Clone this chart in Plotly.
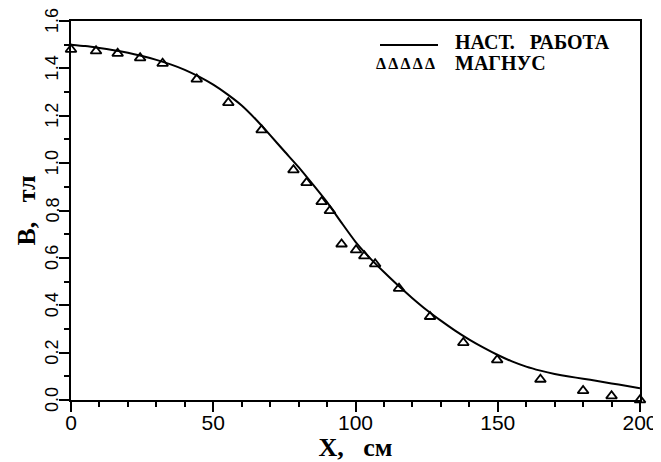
import plotly.graph_objects as go

# Curve "НАСТ. РАБОТА"
curve_x = [0, 5, 10, 15, 20, 25, 30, 35, 40, 45, 50, 55, 60, 65, 70, 75, 80, 85, 90, 95, 100,
           105, 110, 115, 120, 125, 130, 135, 140, 145, 150, 155, 160, 165, 170, 175, 180, 185, 190, 195, 200]
curve_y = [1.500, 1.494, 1.486, 1.477, 1.466, 1.452, 1.436, 1.417, 1.394, 1.365, 1.331, 1.290, 1.243,
           1.184, 1.118, 1.050, 0.983, 0.910, 0.835, 0.750, 0.668, 0.600, 0.540, 0.483, 0.430, 0.380,
           0.335, 0.293, 0.255, 0.221, 0.190, 0.163, 0.141, 0.124, 0.110, 0.099, 0.090, 0.080, 0.070,
           0.060, 0.050]

# Points "МАГНУС"
pts_x = [0, 8.8, 16.4, 24.3, 32.2, 44.2, 55.3, 67.0, 78.2, 82.8, 88.1, 91.0, 95.1, 100.2, 103.1, 106.9,
         115.3, 126.2, 137.9, 149.8, 165.0, 180.0, 190.0, 200.0]
pts_y = [1.48, 1.473, 1.463, 1.444, 1.421, 1.354, 1.255, 1.140, 0.971, 0.917, 0.837, 0.799, 0.658, 0.633,
         0.608, 0.574, 0.471, 0.352, 0.242, 0.169, 0.087, 0.039, 0.017, 0.0]

x_ticks = [0, 50, 100, 150, 200]
y_ticks = [0.0, 0.2, 0.4, 0.6, 0.8, 1.0, 1.2, 1.4, 1.6]

SP = "\u00a0"
x_title = "X," + SP * 3 + "см"
y_title = "B," + SP * 3 + "тл"
legend_line = "НАСТ." + SP * 3 + "РАБОТА"
legend_pts = "МАГНУС"

serif = "Liberation Serif, Times New Roman, serif"
sans = "Liberation Sans, Arial, sans-serif"
narrow = "Liberation Sans Narrow, Arial Narrow, Liberation Sans, sans-serif"

# page body has an 8px margin: the figure starts at (8, 8) in the window
OFF = 8
WIN_W, WIN_H = 661, 462
PX0, PX1, PY0, PY1 = 71, 640, 21, 400          # plot box in window pixels
W, H = WIN_W - OFF, WIN_H - OFF
L, T = PX0 - OFF, PY0 - OFF
R, B = W - (PX1 - OFF), H - (PY1 - OFF)
PW, PH = PX1 - PX0, PY1 - PY0


def px(xw):
    return (xw - PX0) / PW


def py(yw):
    return (PY1 - yw) / PH


fig = go.Figure()
fig.add_trace(go.Scatter(x=curve_x, y=curve_y, mode="lines",
                         line=dict(color="black", width=2, shape="spline", smoothing=0.6),
                         name=legend_line, showlegend=False))
fig.add_trace(go.Scatter(x=pts_x, y=pts_y, mode="markers", cliponaxis=False,
                         marker=dict(symbol="triangle-up-open", size=9.5, color="black",
                                     line=dict(width=1.8, color="black")),
                         name=legend_pts, showlegend=False))

fig.update_layout(
    width=W, height=H,
    margin=dict(l=L, r=R, t=T, b=B, pad=0),
    paper_bgcolor="white", plot_bgcolor="white",
    showlegend=False,
    xaxis=dict(range=[0, 200], tickvals=x_ticks, ticktext=[str(v) for v in x_ticks], automargin=False,
               showgrid=False, zeroline=False, showline=True, linecolor="black", linewidth=2, mirror=True,
               ticks="outside", ticklen=10, tickwidth=2, tickcolor="black", ticklabelstandoff=-7,
               minor=dict(dtick=10, tick0=0, ticks="outside", ticklen=5, tickwidth=2, tickcolor="black"),
               tickfont=dict(family=sans, size=21, color="black"),
               title=dict(text="<b>" + x_title + "</b>", font=dict(family=serif, size=26, color="black"), standoff=10)),
    yaxis=dict(range=[0, 1.6], tickvals=y_ticks, showticklabels=False, automargin=False,
               showgrid=False, zeroline=False, showline=True, linecolor="black", linewidth=2, mirror=True,
               ticks="outside", ticklen=10, tickwidth=2, tickcolor="black",
               minor=dict(dtick=0.1, tick0=0, ticks="outside", ticklen=5, tickwidth=2, tickcolor="black"),
               title=dict(text="<b>" + y_title + "</b>", font=dict(family=serif, size=26, color="black"), standoff=16)),
)

# rotated y tick labels (read bottom to top, as in the original)
for v in y_ticks:
    fig.add_annotation(xref="paper", yref="y", x=-19 / PW, y=v, xanchor="center", yanchor="middle",
                       text=f"{v:.1f}", textangle=-90, showarrow=False,
                       font=dict(family=narrow, size=18, color="black"))

# legend drawn as in the original figure
fig.add_shape(type="line", xref="paper", yref="paper", x0=px(380), x1=px(438),
              y0=py(45), y1=py(45), line=dict(color="black", width=2))
fig.add_annotation(xref="paper", yref="paper", x=px(453), y=py(42), xanchor="left", yanchor="middle",
                   text="<b>" + legend_line + "</b>", showarrow=False, font=dict(family=serif, size=20, color="black"))
fig.add_annotation(xref="paper", yref="paper", x=px(374), y=py(63), xanchor="left", yanchor="middle",
                   text="<b>Δ Δ Δ Δ Δ</b>", showarrow=False, font=dict(family=serif, size=16, color="black"))
fig.add_annotation(xref="paper", yref="paper", x=px(453), y=py(63), xanchor="left", yanchor="middle",
                   text="<b>" + legend_pts + "</b>", showarrow=False, font=dict(family=serif, size=20, color="black"))

fig.write_html("out.html")
